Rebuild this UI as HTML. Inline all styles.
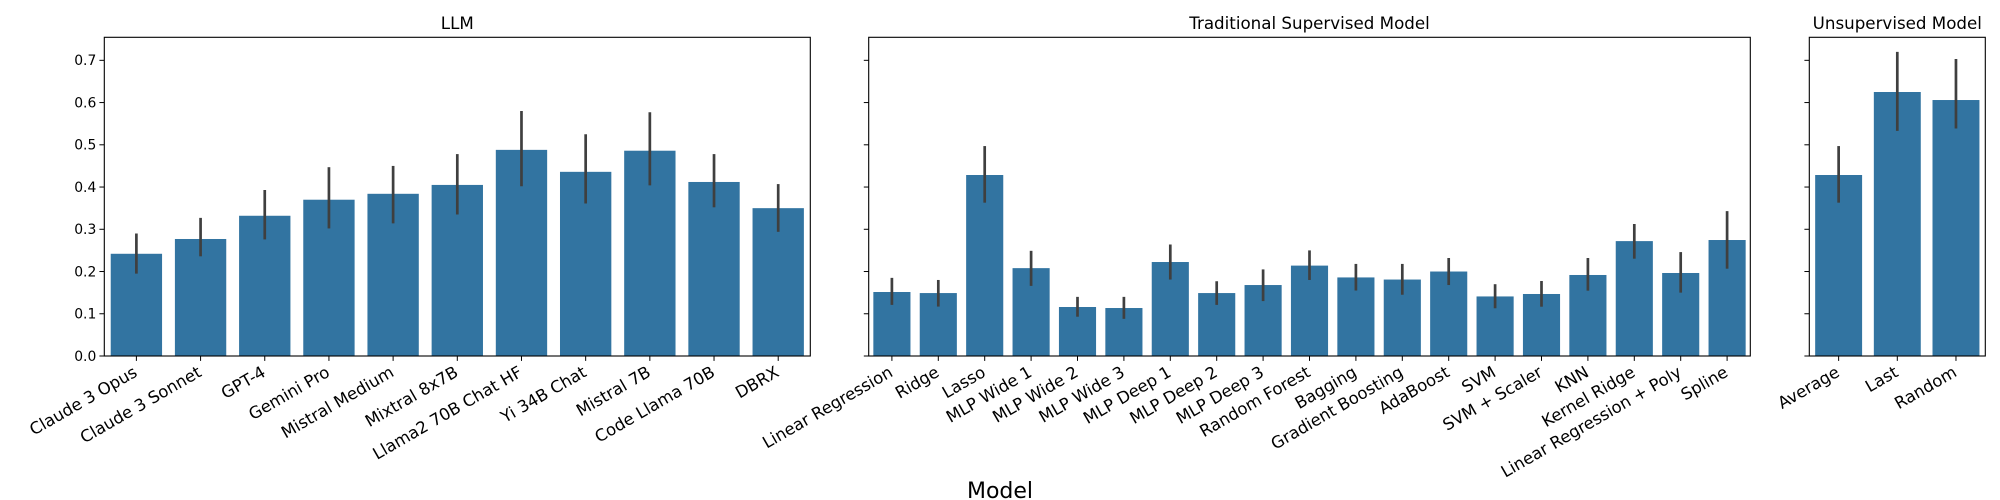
<!DOCTYPE html>
<html><head><meta charset="utf-8"><style>
html,body{margin:0;padding:0;background:#fff;}
svg{display:block;font-family:"DejaVu Sans","Liberation Sans",sans-serif;}
</style></head><body>
<svg id="chart" width="2000" height="500" viewBox="0 0 2000 500" xmlns="http://www.w3.org/2000/svg"></svg>
<script>
const llmCategories = ["Claude 3 Opus","Claude 3 Sonnet","GPT-4","Gemini Pro","Mistral Medium","Mixtral 8x7B","Llama2 70B Chat HF","Yi 34B Chat","Mistral 7B","Code Llama 70B","DBRX"];
const llmValues = [0.242,0.277,0.332,0.370,0.384,0.405,0.488,0.436,0.486,0.412,0.350];
const llmLow = [0.195,0.236,0.276,0.302,0.314,0.335,0.402,0.361,0.404,0.352,0.294];
const llmHigh = [0.290,0.327,0.393,0.447,0.450,0.478,0.580,0.525,0.577,0.478,0.407];

const tradCategories = ["Linear Regression","Ridge","Lasso","MLP Wide 1","MLP Wide 2","MLP Wide 3","MLP Deep 1","MLP Deep 2","MLP Deep 3","Random Forest","Bagging","Gradient Boosting","AdaBoost","SVM","SVM + Scaler","KNN","Kernel Ridge","Linear Regression + Poly","Spline"];
const tradValues = [0.1515,0.149,0.4285,0.208,0.116,0.1136,0.2225,0.149,0.168,0.214,0.186,0.181,0.200,0.141,0.1468,0.1918,0.272,0.1965,0.2746];
const tradLow = [0.121,0.117,0.363,0.166,0.093,0.088,0.181,0.121,0.130,0.180,0.155,0.145,0.168,0.113,0.1167,0.1547,0.2304,0.150,0.2067];
const tradHigh = [0.185,0.180,0.497,0.249,0.140,0.140,0.264,0.177,0.205,0.250,0.218,0.218,0.232,0.170,0.1776,0.232,0.3125,0.246,0.343];

const unsupCategories = ["Average","Last","Random"];
const unsupValues = [0.4285,0.625,0.606];
const unsupLow = [0.363,0.533,0.5386];
const unsupHigh = [0.497,0.720,0.703];

const yTicks = [0.0,0.1,0.2,0.3,0.4,0.5,0.6,0.7];
const yTickLabels = ["0.0","0.1","0.2","0.3","0.4","0.5","0.6","0.7"];
const panelTitles = ["LLM","Traditional Supervised Model","Unsupervised Model"];

const NS = "http://www.w3.org/2000/svg";
const svg = document.getElementById("chart");
const TOP = 37.3, BOTTOM = 356, YMAX = 0.7545;
function yScale(v){ return BOTTOM - v / YMAX * (BOTTOM - TOP); }
function mk(tag, attrs, parent){
  const e = document.createElementNS(NS, tag);
  for (const k in attrs) e.setAttribute(k, attrs[k]);
  (parent || svg).appendChild(e);
  return e;
}
const panels = [
  {key:"llm", left:104.3, right:810.3, cats:llmCategories, vals:llmValues, lo:llmLow, hi:llmHigh, showY:true},
  {key:"traditional", left:868.7, right:1750.3, cats:tradCategories, vals:tradValues, lo:tradLow, hi:tradHigh, showY:false},
  {key:"unsupervised", left:1809.3, right:1985.3, cats:unsupCategories, vals:unsupValues, lo:unsupLow, hi:unsupHigh, showY:false}
];
panels.forEach((p, pi) => {
  const g = mk("g", {});
  
  
  const band = (p.right - p.left) / p.cats.length;
  function xCenter(i){ return p.left + band * (i + 0.5); }
  p.cats.forEach((c, i) => {
    const h = p.vals[i];
    const bar = mk("rect", {x: xCenter(i) - band*0.4, y: yScale(h), width: band*0.8, height: yScale(0) - yScale(h), fill: "#3274a1"}, g);
    
    
    const eb = mk("line", {x1: xCenter(i), x2: xCenter(i), y1: yScale(p.lo[i]), y2: yScale(p.hi[i]), stroke: "#3f3f3f", "stroke-width": 2.7}, g);
    
    
    mk("line", {x1: xCenter(i), x2: xCenter(i), y1: BOTTOM, y2: BOTTOM + 4.9, stroke: "#000", "stroke-width": 1}, g);
    const tx = xCenter(i) - 4, ty = BOTTOM + 9;
    const t = mk("text", {x: tx, y: ty, "text-anchor": "end", "dominant-baseline": "hanging", "font-size": 16.5, fill: "#000", transform: `rotate(-30 ${tx} ${ty})`}, g);
    t.textContent = c;
    
    
  });
  yTicks.forEach((v, i) => {
    mk("line", {x1: p.left - 4.9, x2: p.left, y1: yScale(v), y2: yScale(v), stroke: "#000", "stroke-width": 1}, g);
    if (p.showY) {
      const t = mk("text", {x: p.left - 8, y: yScale(v) + 4.8, "text-anchor": "end", "font-size": 13.9, fill: "#000"}, g);
      t.textContent = yTickLabels[i];
      
      
    }
  });
  const frame = mk("rect", {x: p.left, y: TOP, width: p.right - p.left, height: BOTTOM - TOP, fill: "none", stroke: "#000", "stroke-width": 1.1}, g);
  
  
  const title = mk("text", {x: (p.left + p.right)/2, y: 29, "text-anchor": "middle", "font-size": 16.7, fill: "#000"}, g);
  title.textContent = panelTitles[pi];
  
  
});
const xl = mk("text", {x: 1000, y: 498, "text-anchor": "middle", "font-size": 22, fill: "#000"});
xl.textContent = "Model";


</script>
</body></html>
